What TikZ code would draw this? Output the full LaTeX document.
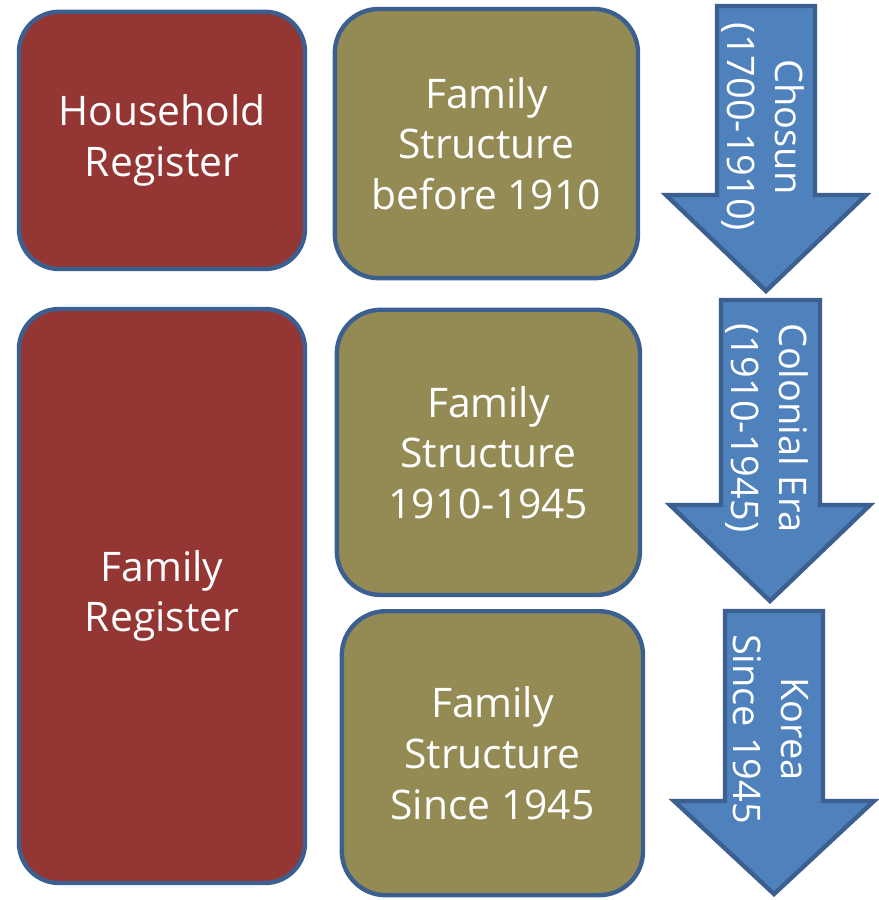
\documentclass[tikz,border=0pt]{standalone}
\usepackage{fontspec}
\setmainfont{Open Sans}
\usepackage{tikz}
\usetikzlibrary{positioning}

\definecolor{regred}{HTML}{943634}
\definecolor{strolive}{HTML}{948A54}
\definecolor{eraarrow}{HTML}{4F81BD}
\definecolor{edgeblue}{HTML}{3B6090}

\tikzset{
  regbox/.style={draw=edgeblue, line width=1.1mm, fill=regred, rounded corners=1cm,
    text=white, align=center, inner sep=0pt, minimum width=7.15cm,
    font=\fontsize{29}{36}\selectfont},
  strbox/.style={draw=edgeblue, line width=1.1mm, fill=strolive, rounded corners=1.1cm,
    text=white, align=center, inner sep=0pt,
    font=\fontsize{29}{36}\selectfont},
  erashape/.style={draw=edgeblue, line width=1.1mm, fill=eraarrow, line join=miter},
  eratext/.style={text=white, align=center, rotate=-90, inner sep=0pt,
    font=\fontsize{27}{34}\selectfont}
}

\begin{document}
\begin{tikzpicture}
  \useasboundingbox (0,0) rectangle (21.95,-22.5);
  \begin{scope}
    % registers
    \node[regbox, minimum height=6.43cm] (household) at (4.05,-3.51) {Household\\Register};
    \node[regbox, minimum height=14.35cm] (famreg) at (4.05,-14.9) {Family\\Register};

    % family structures
    \node[strbox, minimum width=7.58cm, minimum height=6.73cm] (struct1) at (12.16,-3.59) {Family\\Structure\\before 1910};
    \node[strbox, minimum width=7.58cm, minimum height=7.13cm] (struct2) at (12.21,-11.31) {Family\\Structure\\1910-1945};
    \node[strbox, minimum width=7.53cm, minimum height=7.1cm] (struct3) at (12.31,-18.83) {Family\\Structure\\Since 1945};

    % era arrows
    \draw[erashape] (17.925,-0.15) -- (20.375,-0.15) -- (20.375,-4.875) -- (21.65,-4.875) -- (19.15,-7.275) -- (16.65,-4.875) -- (17.925,-4.875) -- cycle; % chosun
    \draw[erashape] (18.025,-7.5) -- (20.5,-7.5) -- (20.5,-12.625) -- (21.75,-12.625) -- (19.25,-15.025) -- (16.75,-12.625) -- (18.025,-12.625) -- cycle; % colonial
    \draw[erashape] (18.125,-15.275) -- (20.575,-15.275) -- (20.575,-20.025) -- (21.85,-20.025) -- (19.35,-22.35) -- (16.85,-20.025) -- (18.125,-20.025) -- cycle; % korea

    \node[eratext] (chosun) at (19.075,-3.175) {Chosun\\(1700-1910)};
    \node[eratext] (colonial) at (19.175,-10.7) {Colonial Era\\(1910-1945)};
    \node[eratext] (korea) at (19.275,-18.225) {Korea\\Since 1945};
  \end{scope}
\end{tikzpicture}
\end{document}
